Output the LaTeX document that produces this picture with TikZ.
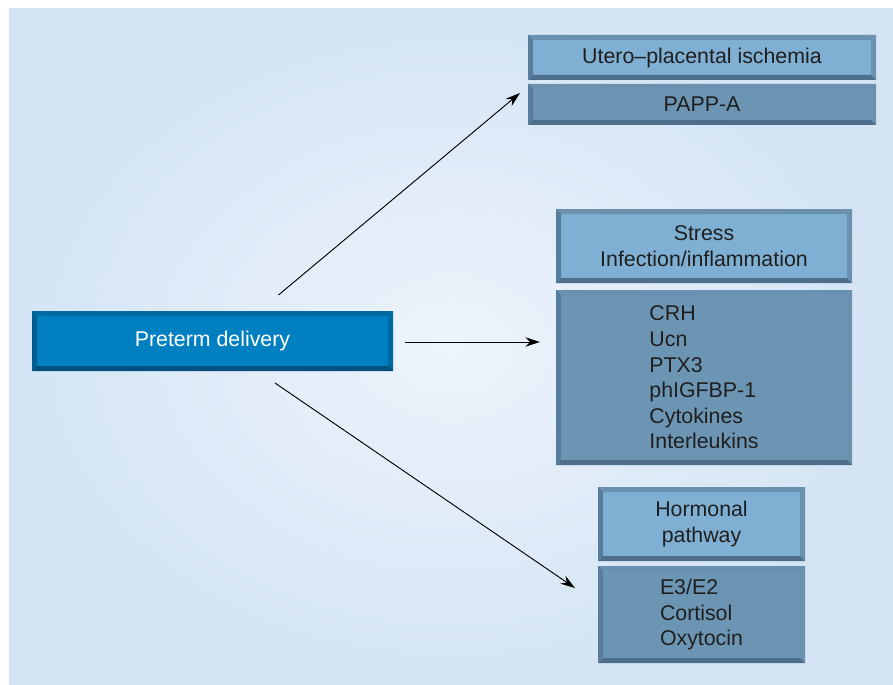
\documentclass[tikz,border=0pt]{standalone}
\usepackage{fontspec}
\setmainfont{Liberation Sans}
\usepackage{tikz}
\usetikzlibrary{calc,positioning,arrows.meta}

\definecolor{panel}{HTML}{D4E4F4}
\definecolor{panelhi}{HTML}{EDF4FC}
\definecolor{headfill}{HTML}{7FAFD3}
\definecolor{listfill}{HTML}{6C94B3}
\definecolor{causefill}{HTML}{0080C0}
\definecolor{edgeT}{HTML}{6A91B0}
\definecolor{edgeL}{HTML}{587C9B}
\definecolor{edgeB}{HTML}{4E6F8C}
\definecolor{edgeR}{HTML}{6C91AF}
\definecolor{causeT}{HTML}{006BA3}
\definecolor{causeL}{HTML}{005D8F}
\definecolor{causeB}{HTML}{00517F}
\definecolor{causeR}{HTML}{0069A0}

% bevelled frame round a node: #1 node, #2 colour prefix
\newcommand{\bevel}[2]{%
	\fill[#2T] (#1.north west) -- (#1.north east) -- ($(#1.north east)+(-5,5)$) -- ($(#1.north west)+(5,5)$) -- cycle;
	\fill[#2R] (#1.north east) -- (#1.south east) -- ($(#1.south east)+(-5,-5)$) -- ($(#1.north east)+(-5,5)$) -- cycle;
	\fill[#2B] (#1.south east) -- (#1.south west) -- ($(#1.south west)+(5,-5)$) -- ($(#1.south east)+(-5,-5)$) -- cycle;
	\fill[#2L] (#1.south west) -- (#1.north west) -- ($(#1.north west)+(5,5)$) -- ($(#1.south west)+(5,-5)$) -- cycle;
}

\begin{document}
\begin{tikzpicture}[x=0.75pt,y=-0.75pt,
		font=\fontsize{16}{19.2}\selectfont,
		box/.style 2 args={inner sep=0pt,outer sep=0pt,minimum width=#1*0.75pt,minimum height=#2*0.75pt,align=center,text=black!88},
		headbox/.style 2 args={box={#1}{#2},fill=headfill},
		listbox/.style 2 args={box={#1}{#2},fill=listfill,align=left},
		arr/.style={-{Stealth[length=11pt,width=7pt]},line width=0.7pt,black}]
		\useasboundingbox (0,0) rectangle (893,685);
		\fill[panel] (9,9) rectangle (893,685);
		\shade[inner color=panelhi,outer color=panel] (9,9) rectangle (893,685);
		
		\node[box={361}{60},fill=causefill,text=white] (cause) at (212.5,341) {Preterm delivery};
		
		\node[headbox={348}{45}] (uteroHead) at (702,57.5) {Utero--placental ischemia};
		\node[listbox={348}{41},align=center] (uteroList) at (702,104.5) {PAPP-A};
		
		\node[headbox={296}{74}] (stressHead) at (704,246) {Stress\\Infection/inflammation};
		\node[listbox={296}{175}] (stressList) at (704,377.5) {CRH\\Ucn\\PTX3\\phIGFBP-1\\Cytokines\\Interleukins};
		
		\node[headbox={207}{74}] (hormHead) at (701.5,524) {Hormonal\\pathway};
		\node[listbox={207}{97}] (hormList) at (701.5,614.5) {E3/E2\\Cortisol\\Oxytocin};
		
		\foreach \n in {uteroHead,uteroList,stressHead,stressList,hormHead,hormList} {
			\bevel{\n}{edge}
		};
		\bevel{cause}{cause}
		
		\draw[arr] ($(cause.north)+(66,-16)$) coordinate (s1) -- ($(uteroList.north west)+(-8,9)$) coordinate (e1);
		\draw[arr] ($(cause.east)+(12,1)$) coordinate (s2) -- ($(cause.east -| stressList.west)+(-16,1)$) coordinate (e2);
		\draw[arr] ($(cause.south)+(62.5,12)$) coordinate (s3) -- ($(hormList.north west)+(-23,22)$) coordinate (e3);
	\end{tikzpicture}
\end{document}
